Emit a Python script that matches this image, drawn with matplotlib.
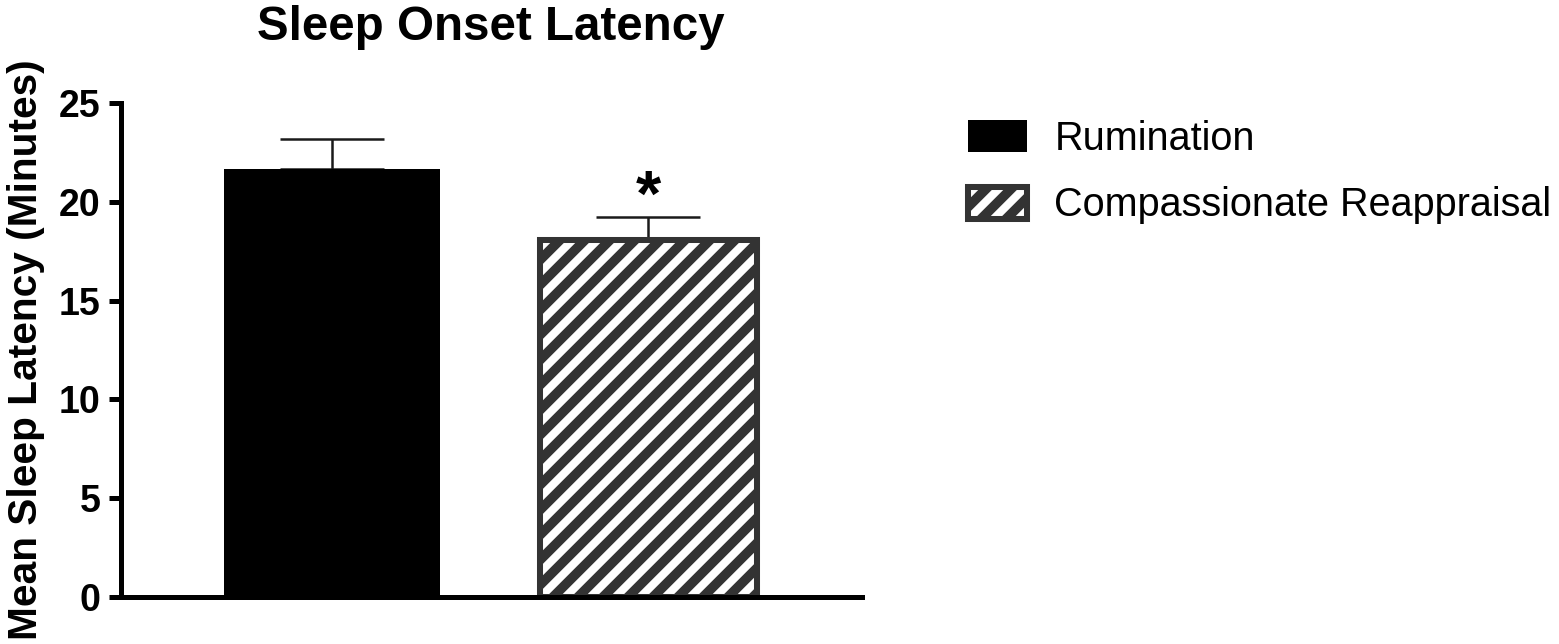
import matplotlib
matplotlib.use("Agg")
import matplotlib.pyplot as plt
from matplotlib.patches import Patch

# ---- data ----
categories = ["Rumination", "Compassionate Reappraisal"]
means = [21.65, 18.05]
sem = [1.55, 1.2]
y_ticks = [0, 5, 10, 15, 20, 25]
title = "Sleep Onset Latency"
ylabel = "Mean Sleep Latency (Minutes)"
sig_marks = ["", "*"]

DPI = 150
plt.rcParams['font.family'] = ['Liberation Sans', 'DejaVu Sans']
plt.rcParams['hatch.linewidth'] = 4.6

fig = plt.figure(figsize=(1559 / DPI, 644 / DPI), dpi=DPI)
ax = fig.add_axes([120.5 / 1559, 1 - 597 / 644, (862 - 120.5) / 1559, (597 - 103) / 644])

dark = "#333333"
x = list(range(len(categories)))
bars = ax.bar(x, means, width=0.685,
              color=["black", "white"],
              edgecolor=["black", dark],
              linewidth=[0, 2.9], zorder=2)
bars[1].set_hatch("//")

ax.errorbar(x, means, yerr=[[0] * len(sem), sem], fmt="none",
            ecolor="#1a1a1a", elinewidth=1.2, capsize=25, capthick=1.2, zorder=1)

for xi, m, s, mark in zip(x, means, sem, sig_marks):
    if mark:
        ax.annotate(mark, (xi, m + s), xytext=(0, -6), textcoords="offset points",
                    ha="center", va="bottom", fontsize=31, fontweight="bold")

ax.set_xlim(-0.668, 1.675)
ax.set_ylim(0, 25)
ax.set_yticks(y_ticks)
ax.set_xticks([])
for s in ["top", "right"]:
    ax.spines[s].set_visible(False)
for s in ["left", "bottom"]:
    ax.spines[s].set_linewidth(2.4)
ax.tick_params(axis="y", length=5.8, width=2.4, pad=3.8, labelsize=18)
for lab in ax.get_yticklabels():
    lab.set_fontweight("bold")

ax.set_title(title, fontsize=22.8, fontweight="bold", pad=30)
ax.set_ylabel(ylabel, fontsize=19.5, fontweight="bold")
ax.yaxis.set_label_coords(-0.102, 0.5)

handles = [Patch(facecolor="black", edgecolor="black", linewidth=0),
           Patch(facecolor="white", edgecolor=dark, linewidth=2.9, hatch="//")]
fig.legend(handles, categories, loc="upper left",
           bbox_to_anchor=(968 / 1559, 1 - 120 / 644), frameon=False,
           fontsize=19, handlelength=1.5, handleheight=0.88,
           handletextpad=0.68, labelspacing=0.72, borderpad=0, borderaxespad=0)

fig.savefig("out.png", dpi=DPI)
